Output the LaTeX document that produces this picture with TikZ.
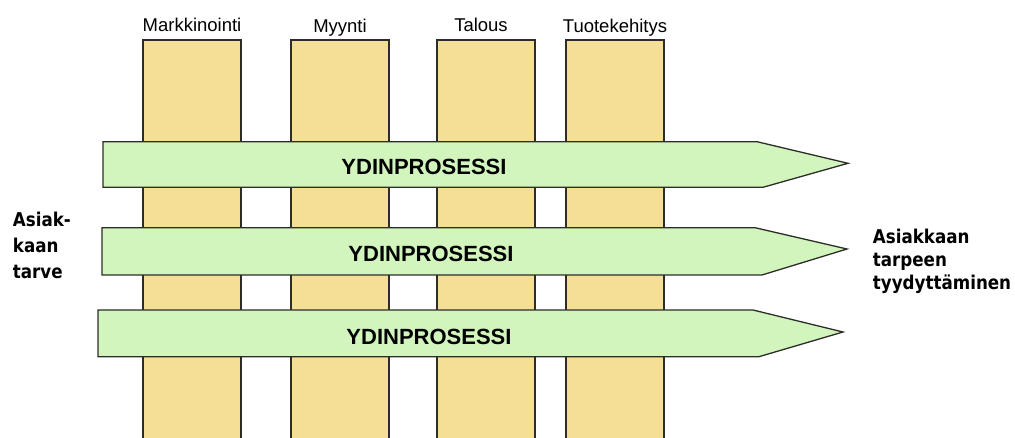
\documentclass[tikz,border=0pt]{standalone}
\usepackage{fontspec}
\setmainfont{Liberation Sans}
\newfontfamily\sidefont[FakeStretch=0.88]{DejaVu Sans}
\definecolor{coltan}{RGB}{245,222,150}
\definecolor{procgreen}{RGB}{210,245,190}
\definecolor{linec}{RGB}{45,45,40}
\begin{document}
\begin{tikzpicture}[x=1pt,y=-1pt,
  colfill/.style={fill=coltan},
  coledge/.style={draw=linec,line width=1.3pt},
  proc/.style={fill=procgreen,draw=linec,line width=1.3pt,line join=miter},
  proctext/.style={anchor=base,inner sep=0pt,font=\fontsize{22}{26}\selectfont\bfseries},
  coltext/.style={anchor=base,inner sep=0pt,font=\fontsize{18.5}{22}\selectfont},
  sidetext/.style={anchor=north west,inner sep=0pt,align=left}]
\useasboundingbox (0,0) rectangle (1015,438);
% columns
\foreach \l/\r in {143/241,291/389,437/535,566/664}{
  \fill[colfill] (\l,40) rectangle (\r,438);
  \draw[coledge] (\l,438) -- (\l,40) -- (\r,40) -- (\r,438);
}
\node[coltext] (mark) at (192,31.7) {Markkinointi};
\node[coltext] (myyn) at (340,32.5) {Myynti};
\node[coltext] (tal) at (481,31.7) {Talous};
\node[coltext] (tuot) at (615,32.3) {Tuotekehitys};
% process arrows
\draw[proc] (103,141.7) -- (757,141.7) -- (848,163.3) -- (763,187.3) -- (103,187.3) -- cycle;
\draw[proc] (102,227.7) -- (755,227.7) -- (847,249) -- (762,275) -- (102,275) -- cycle;
\draw[proc] (98,310) -- (753,310) -- (843,332) -- (759,356.7) -- (98,356.7) -- cycle;
\node[proctext] (p1) at (424,175) {YDINPROSESSI};
\node[proctext] (p2) at (431,261.3) {YDINPROSESSI};
\node[proctext] (p3) at (429,344.3) {YDINPROSESSI};
% side labels
\node[sidetext,font=\sidefont\bfseries\fontsize{19}{26}\selectfont] (need) at (12.7,211.6) {Asiak-\\kaan\\tarve};
\node[sidetext,font=\sidefont\bfseries\fontsize{19}{23}\selectfont] (sat) at (872.7,228.6) {Asiakkaan\\tarpeen\\tyydyttäminen};
\end{tikzpicture}
\end{document}
